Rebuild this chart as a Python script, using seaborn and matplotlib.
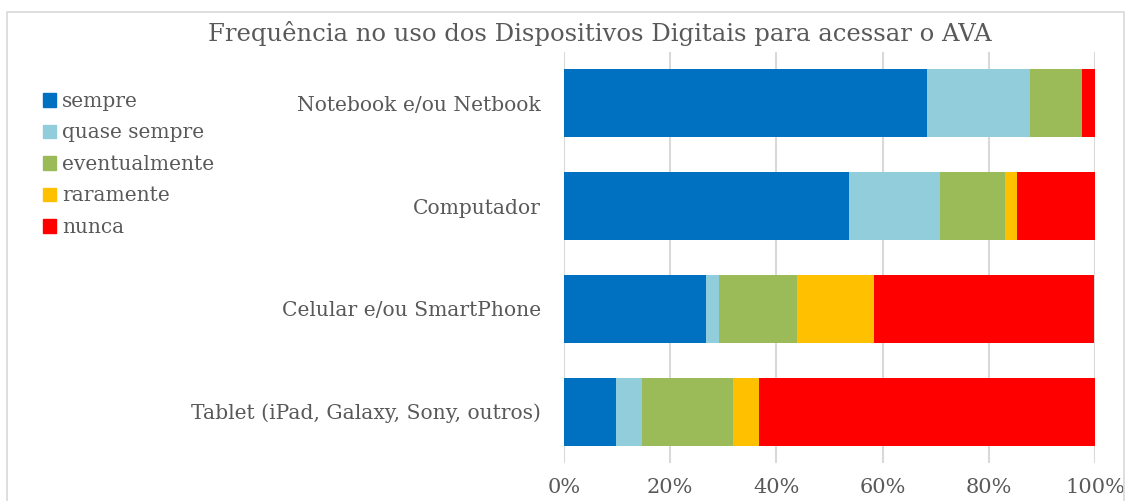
import matplotlib
matplotlib.use("Agg")
import matplotlib.pyplot as plt
import matplotlib.patches as mpatches
import seaborn as sns
import pandas as pd

devices = ["Notebook e/ou Netbook", "Computador", "Celular e/ou SmartPhone",
           "Tablet (iPad, Galaxy, Sony, outros)"]
levels = ["sempre", "quase sempre", "eventualmente", "raramente", "nunca"]
colors = ["#0070c0", "#92cddc", "#9bbb59", "#ffc000", "#ff0000"]

# share of answers (%) per device
sempre = [68.3, 53.7, 26.8, 9.8]
quase_sempre = [19.5, 17.1, 2.4, 4.9]
eventualmente = [9.8, 12.2, 14.6, 17.1]
raramente = [0.0, 2.4, 14.6, 4.9]
nunca = [2.4, 14.6, 41.5, 63.4]

df = pd.DataFrame({"device": devices, "sempre": sempre, "quase sempre": quase_sempre,
                   "eventualmente": eventualmente, "raramente": raramente, "nunca": nunca})
cum = df[levels].cumsum(axis=1)

sns.set_style("white")
plt.rcParams['font.family'] = ['DejaVu Serif']

fig = plt.figure(figsize=(11.31, 5.01), dpi=100)
ax = fig.add_axes([564/1131, 1 - 463/501, 531/1131, 411/501])

# stacked bars: draw cumulative totals back to front
for lev, col in reversed(list(zip(levels, colors))):
    sns.barplot(x=cum[lev], y=df["device"], orient="h", color=col,
                width=0.66, ax=ax, saturation=1, edgecolor="none", zorder=2)

ax.set_xlim(0, 100)
ax.set_ylim(3.5, -0.5)
ax.set_xticks([0, 20, 40, 60, 80, 100])
ax.set_xticklabels([f"{v}%" for v in [0, 20, 40, 60, 80, 100]])
ax.grid(axis="x", color="#d9d9d9", linewidth=1.5, zorder=0)
ax.set_axisbelow(True)
for s in ax.spines.values():
    s.set_visible(False)
ax.set_xlabel("")
ax.set_ylabel("")
ax.tick_params(axis="y", length=0, pad=16.5, labelsize=14.6, labelcolor="#595959")
ax.tick_params(axis="x", length=0, pad=11, labelsize=15, labelcolor="#595959")

fig.text(600/1131, 1 - 33/501, "Frequência no uso dos Dispositivos Digitais para acessar o AVA",
         ha="center", va="center", fontsize=17.5, color="#595959")

handles = [mpatches.Patch(color=c, label=l) for l, c in zip(levels, colors)]
fig.legend(handles=handles, loc="upper left", bbox_to_anchor=(43/1131, 1 - 92/501),
           frameon=False, fontsize=14.5, labelcolor="#595959", handlelength=0.64,
           handleheight=0.64, handletextpad=0.3, labelspacing=0.62, borderaxespad=0,
           borderpad=0)

fig.patches.append(mpatches.Rectangle((7/1131, -0.02), 1117/1131, 1 - 12/501 + 0.02,
                                      transform=fig.transFigure, fill=False,
                                      edgecolor="#d9d9d9", linewidth=1.2))

fig.savefig("out.png", dpi=100, facecolor="white")
